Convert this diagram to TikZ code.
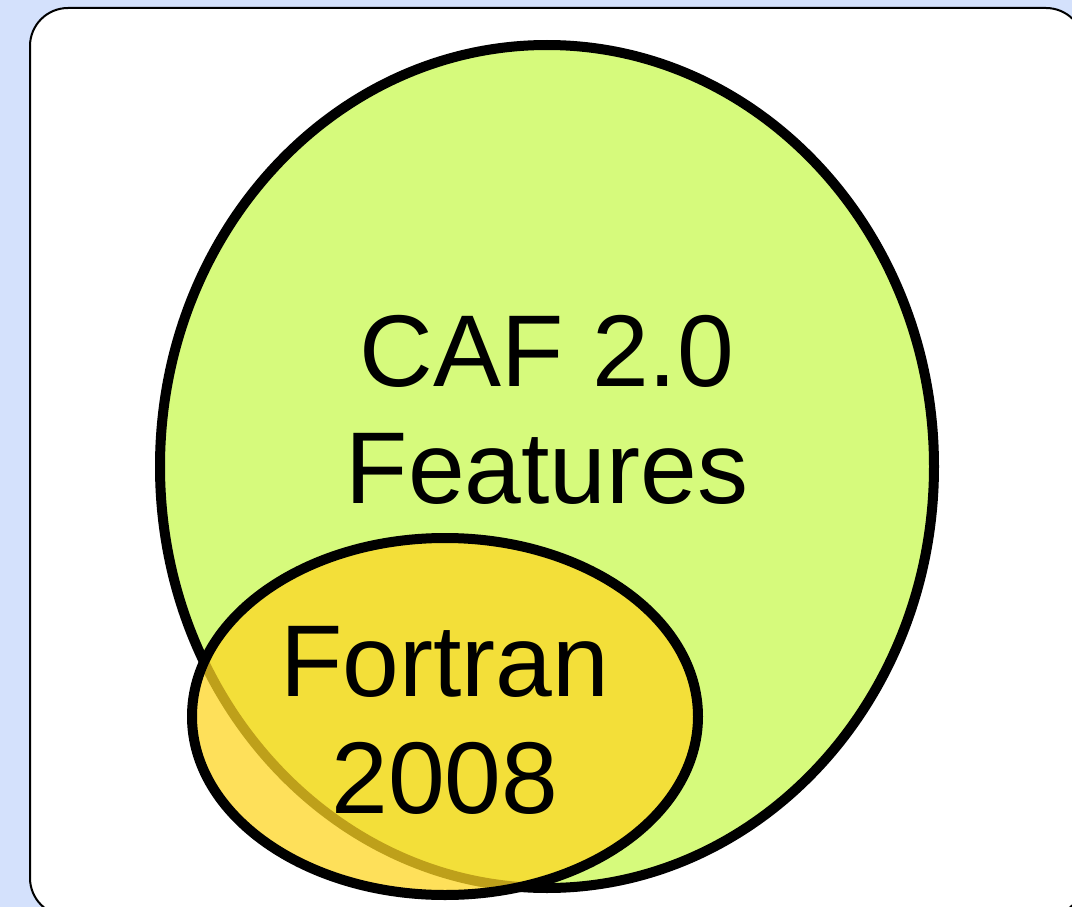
\documentclass[tikz,border=0pt]{standalone}
\usepackage{fontspec}
\setmainfont{Liberation Sans}
\definecolor{bgblue}{RGB}{212,225,252}
\definecolor{cafgreen}{RGB}{214,250,124}
\definecolor{fyellow}{RGB}{254,214,35}
\tikzset{
  panel/.style={draw=black, line width=2pt, fill=white, rounded corners=38pt},
  setshape/.style={draw=black, line width=10pt},
  biglabel/.style={font=\fontsize{102}{117}\selectfont, align=center, anchor=base, inner sep=0pt}
}
\begin{document}
\begin{tikzpicture}[x=1pt,y=-1pt]
\useasboundingbox (0,0) rectangle (1072,907);
\clip (0,0) rectangle (1072,907);
\fill[bgblue] (0,0) rectangle (1072,907);
\draw[panel] (30,8) rectangle (1084,916);
\draw[setshape, fill=cafgreen] (547,466.5) ellipse [x radius=387, y radius=421.5];
\node[biglabel] (caf) at (547,503) {CAF 2.0\\Features};
\draw[setshape, fill=fyellow, fill opacity=0.75] (445,716.5) ellipse [x radius=253, y radius=178.5];
\node[biglabel] (fortran) at (445,813) {Fortran\\2008};
\end{tikzpicture}
\end{document}
